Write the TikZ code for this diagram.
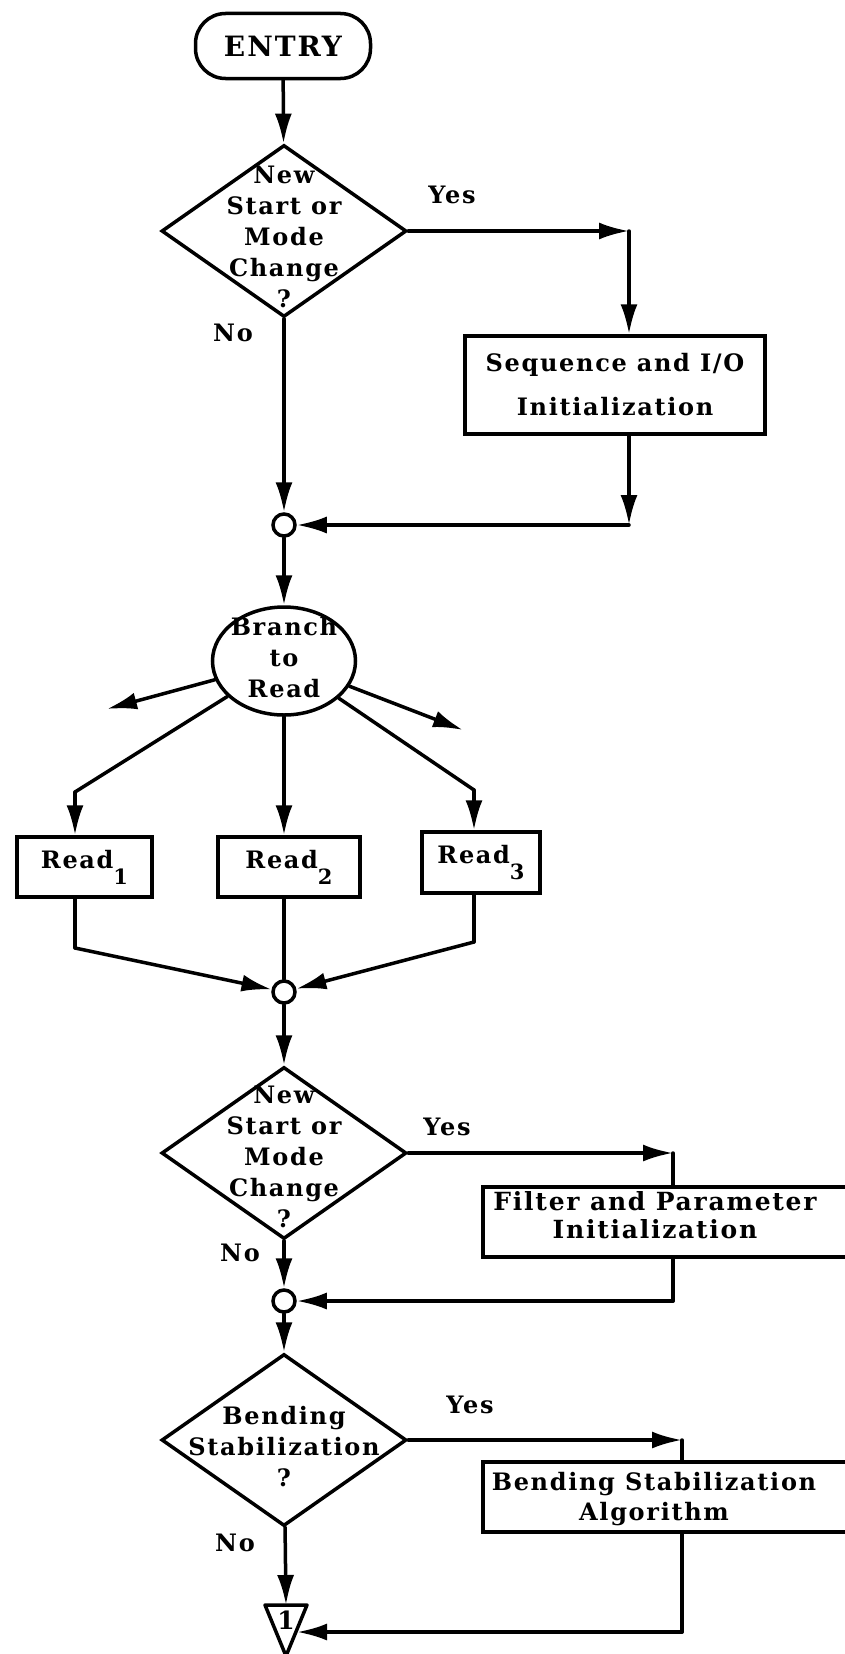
\documentclass[tikz,border=0pt]{standalone}
\usepackage{fontspec}
\setmainfont{DejaVu Serif}[LetterSpace=7]
\usetikzlibrary{arrows.meta,shapes.geometric}
\newcommand{\rsub}[1]{\raisebox{-16pt}{\fontsize{21}{21}\selectfont#1}}

\begin{document}
\begin{tikzpicture}[x=1pt,y=-1pt,line width=3.5pt,line cap=round,
  txt/.style={font=\bfseries\fontsize{24}{31}\selectfont,align=center,inner sep=0pt},
  tag/.style={font=\bfseries\fontsize{24}{27}\selectfont,inner sep=0pt},
  entrybox/.style={draw,rounded corners=30pt,minimum width=175pt,minimum height=65pt,inner sep=0pt},
  procbox/.style={draw,rectangle,inner sep=0pt},
  decision/.style={draw,diamond,minimum width=245pt,minimum height=172pt,inner sep=0pt},
  joint/.style={draw,circle,minimum size=22pt,inner sep=0pt},
  flow/.style={-{Latex[length=30pt,width=17pt]}}]
  \path[use as bounding box] (0,0) rectangle (845,1654);
  \clip (0,0) rectangle (845,1654);

  \node[entrybox,txt,font=\bfseries\fontsize{28}{32}\selectfont] (entry) at (283,46) {ENTRY};
  \node[decision] (d1) at (284,231) {};
  \node[txt] (d1txt) at (284,237) {New\\Start or\\Mode\\Change\\?};
  \node[tag] (yes1lbl) at (452,195) {Yes};
  \node[tag] (no1lbl) at (233,333) {No};
  \node[procbox,txt,minimum width=300pt,minimum height=98pt,font=\bfseries\fontsize{24}{44}\selectfont] (seq) at (615,385) {Sequence and I/O\\Initialization};
  \node[joint] (j1) at (284,525) {};
  \node[draw,ellipse,minimum width=143pt,minimum height=108pt,inner sep=0pt] (branch) at (284,661) {};
  \node[txt] (branchtxt) at (284,658) {Branch\\to\\Read};
  \node[procbox,txt,minimum width=135pt,minimum height=60pt] (read1) at (84.5,867) {Read\rsub{1}};
  \node[procbox,txt,minimum width=142pt,minimum height=60pt] (read2) at (289,867) {Read\rsub{2}};
  \node[procbox,txt,minimum width=118pt,minimum height=61pt] (read3) at (481,862.5) {Read\rsub{3}};
  \node[joint] (j2) at (284,992) {};
  \node[decision] (d2) at (284,1153) {};
  \node[txt] (d2txt) at (284,1157) {New\\Start or\\Mode\\Change\\?};
  \node[tag] (yes2lbl) at (447,1127) {Yes};
  \node[tag] (no2lbl) at (240,1253) {No};
  \node[procbox,minimum width=377pt,minimum height=70pt] (filt) at (671.5,1222) {};
  \node[txt,font=\bfseries\fontsize{25}{28}\selectfont] (filttxt) at (655,1215) {Filter and Parameter\\Initialization};
  \node[joint] (j3) at (284,1301) {};
  \node[decision] (d3) at (284,1440) {};
  \node[txt] (d3txt) at (284,1447) {Bending\\Stabilization\\?};
  \node[tag] (yes3lbl) at (470,1405) {Yes};
  \node[tag] (no3lbl) at (235,1543) {No};
  \node[procbox,minimum width=377pt,minimum height=70pt] (bend) at (671.5,1497) {};
  \node[txt,font=\bfseries\fontsize{24}{30}\selectfont] (bendtxt) at (654,1499) {Bending Stabilization\\Algorithm};
  \node[txt,font=\bfseries\fontsize{25}{25}\selectfont] (tri) at (286,1620) {1};
  \draw[line join=round] (265,1605) -- (307,1605) -- (286,1656) -- cycle;

  \coordinate (yes1) at (629,231);
  \coordinate (ret1) at (629,525);
  \coordinate (stubL) at (107,709);
  \coordinate (stubR) at (463,730);
  \coordinate (forkL) at (75,792);
  \coordinate (forkR) at (474,790);
  \coordinate (joinL) at (75,948);
  \coordinate (joinR) at (474,942);
  \coordinate (yes2) at (673,1153);
  \coordinate (ret2) at (673,1301);
  \coordinate (yes3) at (682,1440);
  \coordinate (ret3) at (682,1632);
  \coordinate (tritop) at (286,1605);
  \coordinate (triin) at (297,1632);

  \draw[flow] (entry) -- (d1);
  \draw[flow] (d1.east) -- (yes1);
  \draw[flow] (yes1) -- (yes1 |- seq.north);
  \draw[flow] (yes1 |- seq.south) -- (ret1);
  \draw[flow] (ret1) -- (j1);
  \draw[flow] (d1) -- (j1);
  \draw[flow] (j1) -- (branch);
  \draw[flow] (branch) -- (stubL);
  \draw[flow] (branch) -- (stubR);
  \draw (branch) -- (forkL);
  \draw[flow] (forkL) -- (forkL |- read1.north);
  \draw[flow] (branch) -- (branch |- read2.north);
  \draw (branch) -- (forkR);
  \draw[flow] (forkR) -- (forkR |- read3.north);
  \draw (forkL |- read1.south) -- (joinL);
  \draw[flow] (joinL) -- (j2);
  \draw (j2 |- read2.south) -- (j2);
  \draw (forkR |- read3.south) -- (joinR);
  \draw[flow] (joinR) -- (j2);
  \draw[flow] (j2) -- (d2);
  \draw[flow] (d2.east) -- (yes2);
  \draw (yes2) -- (yes2 |- filt.north);
  \draw (yes2 |- filt.south) -- (ret2);
  \draw[flow] (ret2) -- (j3);
  \draw[flow] (d2) -- (j3);
  \draw[flow] (j3) -- (d3);
  \draw[flow] (d3.east) -- (yes3);
  \draw (yes3) -- (yes3 |- bend.north);
  \draw (yes3 |- bend.south) -- (ret3);
  \draw[flow] (ret3) -- (triin);
  \draw[flow] (d3) -- (tritop);
\end{tikzpicture}
\end{document}
